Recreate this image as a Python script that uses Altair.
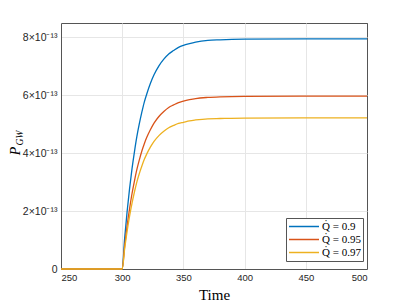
import altair as alt
import pandas as pd

time = [250, 300, 302, 304, 306, 308, 310, 312, 314, 316, 318, 320, 323, 326, 330, 334, 338,
        342, 346, 350, 355, 360, 370, 380, 400, 450, 500]
# values in units of 1e-13
blue = [0, 0, 1.06, 1.98, 2.77, 3.46, 4.05, 4.58, 5.02, 5.41, 5.76, 6.04, 6.41, 6.71, 7.02, 7.25,
        7.43, 7.55, 7.66, 7.73, 7.79, 7.84, 7.90, 7.92, 7.94, 7.95, 7.95]
red = [0, 0, 0.79, 1.49, 2.08, 2.60, 3.04, 3.44, 3.77, 4.07, 4.32, 4.54, 4.81, 5.04, 5.27, 5.44,
       5.58, 5.67, 5.75, 5.80, 5.85, 5.89, 5.93, 5.95, 5.965, 5.97, 5.97]
yellow = [0, 0, 0.69, 1.30, 1.82, 2.27, 2.66, 3.01, 3.30, 3.55, 3.78, 3.97, 4.21, 4.41, 4.61, 4.76,
          4.88, 4.96, 5.03, 5.07, 5.12, 5.15, 5.19, 5.20, 5.215, 5.22, 5.22]
series = ["Q\u0307 = 0.9", "Q\u0307 = 0.95", "Q\u0307 = 0.97"]
colors = ["#0072BD", "#D95319", "#EDB120"]
x_ticks = [250, 300, 350, 400, 450, 500]
y_ticks = [0, 2, 4, 6, 8]

rows = []
for name, vals in zip(series, [blue, red, yellow]):
    for t, v in zip(time, vals):
        rows.append({"Time": t, "P": v, "series": name})
df = pd.DataFrame(rows)

frame = "#555555"
grid_x = {"condition": {"test": "datum.value == 500", "value": frame}, "value": "#e6e6e6"}

lines = alt.Chart(df).mark_line(strokeWidth=1.3, interpolate="monotone").encode(
    x=alt.X("Time:Q", scale=alt.Scale(domain=[250, 500], nice=False),
            axis=alt.Axis(values=x_ticks, title="Time", titleFont="Liberation Serif",
                          titleFontSize=15, titleFontWeight="normal", titleColor="#000000",
                          titleBaseline="alphabetic", titleY=30,
                          labelFontSize=9.5, labelPadding=3,
                          gridColor=grid_x)),
    y=alt.Y("P:Q", scale=alt.Scale(domain=[0, 8.5], nice=False),
            axis=alt.Axis(values=y_ticks, title=None, labelFontSize=10.5, labelPadding=4,
                          labelExpr="datum.value == 0 ? '0' : datum.value + '\u00d710\u207b\u00b9\u00b3'")),
    color=alt.Color("series:N", scale=alt.Scale(domain=series, range=colors),
                    sort=series,
                    legend=alt.Legend(title=None, orient="none", legendX=225, legendY=195,
                                      symbolType="stroke", symbolSize=900, symbolStrokeWidth=1.5,
                                      clipHeight=13,
                                      labelFont="Liberation Serif, DejaVu Serif", labelFontSize=11,
                                      labelColor="#000000",
                                      strokeColor=frame, fillColor="#ffffff",
                                      padding=2, rowPadding=0, labelOffset=2)),
)

one = pd.DataFrame({"a": [0]})
p_text = alt.Chart(one).mark_text(font="Liberation Serif", fontStyle="italic", fontSize=14,
                                  angle=270, color="#000000").encode(
    x=alt.value(-45), y=alt.value(128), text=alt.value("P"))
gw_text = alt.Chart(one).mark_text(font="Liberation Serif", fontStyle="italic", fontSize=9.5,
                                   angle=270, color="#000000").encode(
    x=alt.value(-41.5), y=alt.value(115), text=alt.value("GW"))

chart = alt.layer(lines, p_text, gw_text).properties(
    width=306, height=246,
    autosize=alt.AutoSizeParams(type="none"),
    padding={"left": 53, "top": 15, "right": 30, "bottom": 33},
).configure_view(stroke=frame, strokeWidth=1).configure_axis(
    grid=True, gridColor="#e6e6e6", gridWidth=1, domain=True, domainColor=frame,
    domainWidth=1, ticks=False,
    labelColor="#262626", labelFont="Liberation Sans"
)

chart.save("out.html", embed_options={"renderer": "svg", "actions": False})
